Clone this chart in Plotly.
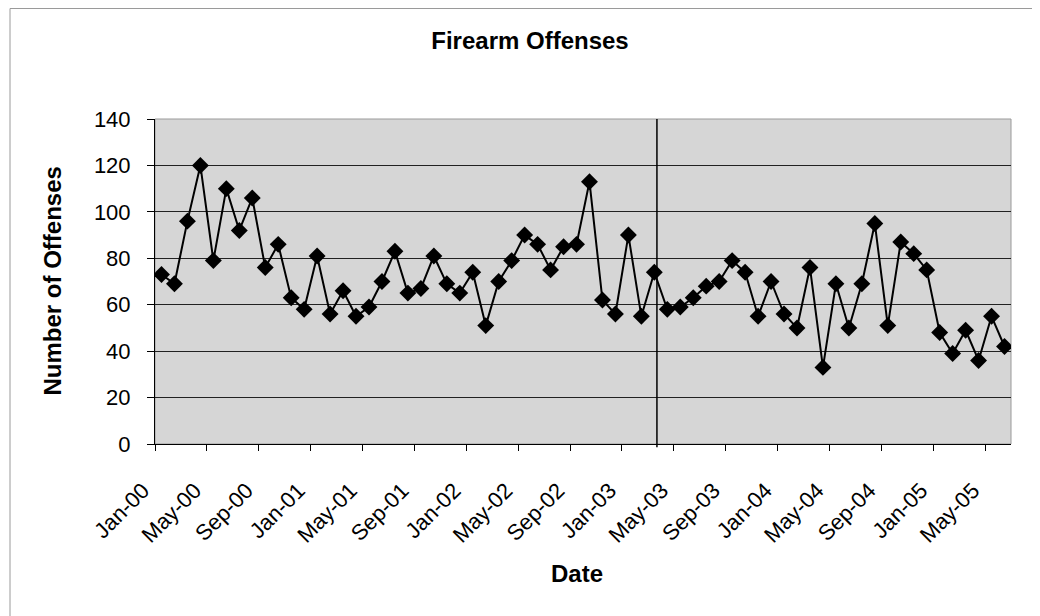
import plotly.graph_objects as go

# ---- data ----
months = [
    "Jan-00", "Feb-00", "Mar-00", "Apr-00", "May-00", "Jun-00", "Jul-00", "Aug-00", "Sep-00", "Oct-00", "Nov-00", "Dec-00",
    "Jan-01", "Feb-01", "Mar-01", "Apr-01", "May-01", "Jun-01", "Jul-01", "Aug-01", "Sep-01", "Oct-01", "Nov-01", "Dec-01",
    "Jan-02", "Feb-02", "Mar-02", "Apr-02", "May-02", "Jun-02", "Jul-02", "Aug-02", "Sep-02", "Oct-02", "Nov-02", "Dec-02",
    "Jan-03", "Feb-03", "Mar-03", "Apr-03", "May-03", "Jun-03", "Jul-03", "Aug-03", "Sep-03", "Oct-03", "Nov-03", "Dec-03",
    "Jan-04", "Feb-04", "Mar-04", "Apr-04", "May-04", "Jun-04", "Jul-04", "Aug-04", "Sep-04", "Oct-04", "Nov-04", "Dec-04",
    "Jan-05", "Feb-05", "Mar-05", "Apr-05", "May-05", "Jun-05",
]
offenses = [
    73, 69, 96, 120, 79, 110, 92, 106, 76, 86, 63, 58,
    81, 56, 66, 55, 59, 70, 83, 65, 67, 81, 69, 65,
    74, 51, 70, 79, 90, 86, 75, 85, 86, 113, 62, 56,
    90, 55, 74, 58, 59, 63, 68, 70, 79, 74, 55, 70,
    56, 50, 76, 33, 69, 50, 69, 95, 51, 87, 82, 75,
    48, 39, 49, 36, 55, 42,
]
y_ticks = [0, 20, 40, 60, 80, 100, 120, 140]
label_step = 4

# ---- figure ----
x_pos = list(range(len(months)))
tick_pos = [i - 0.5 for i in x_pos[::label_step]]
tick_text = months[::label_step]

FONT = "Liberation Sans, Arial, sans-serif"

# plot area in page pixels: x 155..1011, y 119..444 (page has an 8px body offset)
PL, PR, PT, PB = 155, 1011, 119, 444
PW, PH = PR - PL, PB - PT
OFF = 8


def px(xp):
    return (xp - PL) / PW


def py(yp):
    return (PB - yp) / PH


fig = go.Figure()
fig.add_trace(go.Scatter(
    x=x_pos, y=offenses, mode="lines+markers",
    line=dict(color="black", width=2),
    marker=dict(symbol="diamond", size=13, color="black"),
    text=months, hoverinfo="text+y",
    showlegend=False,
))

fig.update_layout(
    width=1040, height=616,
    margin=dict(l=PL - OFF, r=1040 - PR + OFF, t=PT - OFF, b=616 - PB + OFF),
    paper_bgcolor="white",
    plot_bgcolor="#d6d6d6",
    font=dict(family=FONT, color="black", size=22),
    title=dict(text="<b>Firearm Offenses</b>", xref="container", x=(530 - OFF) / 1040,
               xanchor="center", yref="container", y=1 - (41 - OFF) / 616, yanchor="middle",
               font=dict(size=24, family=FONT, color="black")),
    xaxis=dict(
        range=[-0.5, len(months) - 0.5], tickmode="array",
        tickvals=tick_pos, ticktext=tick_text, tickangle=-45,
        ticks="outside", ticklen=6, tickcolor="black",
        showgrid=False, zeroline=False,
        showline=True, linecolor="black", linewidth=1,
        tickfont=dict(size=22), ticklabelstandoff=18, ticklabelshift=-12,
    ),
    yaxis=dict(
        range=[0, 140], tickmode="array", tickvals=y_ticks,
        ticks="outside", ticklen=7, tickcolor="black",
        showgrid=True, gridcolor="#222222", gridwidth=1,
        zeroline=False, showline=True, linecolor="black", linewidth=1,
        tickfont=dict(size=22), ticklabelstandoff=12,
    ),
    annotations=[
        dict(text="<b>Number of Offenses</b>", textangle=-90, xref="paper", yref="paper",
             x=px(52), y=0.5, xanchor="center", yanchor="middle",
             showarrow=False, font=dict(size=24, family=FONT)),
        dict(text="<b>Date</b>", xref="paper", yref="paper",
             x=px(577), y=py(573), xanchor="center", yanchor="middle",
             showarrow=False, font=dict(size=24, family=FONT)),
    ],
    shapes=[
        # plot-area frame
        dict(type="rect", xref="x domain", yref="y domain", x0=0, x1=1, y0=0, y1=1,
             line=dict(color="#9a9a9a", width=1), layer="below"),
        # divider line
        dict(type="line", xref="x", yref="y domain", x0=38.2, x1=38.2, y0=-0.01, y1=1,
             line=dict(color="black", width=1.5)),
        # outer chart frame (left and top)
        dict(type="line", xref="paper", yref="paper",
             x0=px(10), x1=px(10), y0=py(616), y1=py(8.5),
             line=dict(color="#9a9a9a", width=1)),
        dict(type="line", xref="paper", yref="paper",
             x0=px(10), x1=px(1048), y0=py(8.5), y1=py(8.5),
             line=dict(color="#9a9a9a", width=1)),
    ],
)

fig.write_html("out.html")
